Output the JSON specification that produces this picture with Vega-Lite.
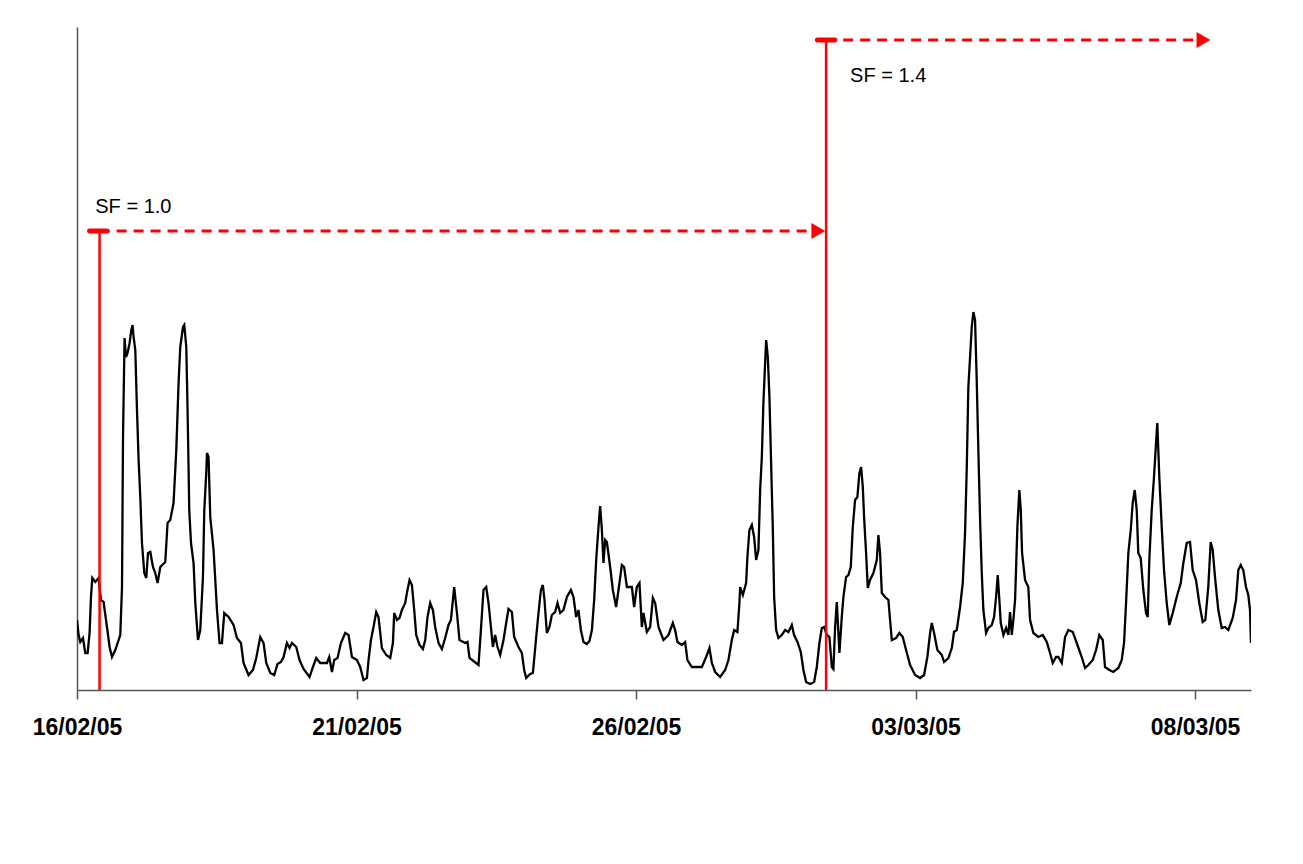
{
  "$schema": "https://vega.github.io/schema/vega-lite/v6.json",
  "width": 1174,
  "height": 663,
  "autosize": {"type": "none"},
  "padding": {"left": 77, "top": 27, "right": 52, "bottom": 174},
  "background": "white",
  "config": {
    "view": {"stroke": null},
    "font": "Arial, Liberation Sans, sans-serif"
  },
  "datasets": {
    "series": [
      {"day":0,"value":70},{"day":0.029,"value":55},{"day":0.059,"value":48},{"day":0.107,"value":52},{"day":0.148,"value":37},{"day":0.19,"value":37},{"day":0.225,"value":57},{"day":0.25,"value":93},{"day":0.274,"value":112},{"day":0.327,"value":108},{"day":0.386,"value":112},{"day":0.429,"value":90},{"day":0.476,"value":88},{"day":0.536,"value":63},{"day":0.583,"value":43},{"day":0.626,"value":33},{"day":0.685,"value":40},{"day":0.774,"value":55},{"day":0.805,"value":103},{"day":0.823,"value":253},{"day":0.851,"value":352},{"day":0.876,"value":333},{"day":0.905,"value":337},{"day":0.941,"value":347},{"day":0.971,"value":360},{"day":0.994,"value":365},{"day":1.012,"value":353},{"day":1.043,"value":340},{"day":1.073,"value":280},{"day":1.102,"value":230},{"day":1.132,"value":193},{"day":1.162,"value":147},{"day":1.204,"value":117},{"day":1.239,"value":112},{"day":1.27,"value":137},{"day":1.311,"value":138},{"day":1.359,"value":123},{"day":1.4,"value":117},{"day":1.441,"value":107},{"day":1.49,"value":123},{"day":1.579,"value":128},{"day":1.62,"value":167},{"day":1.668,"value":170},{"day":1.727,"value":187},{"day":1.776,"value":240},{"day":1.817,"value":307},{"day":1.847,"value":343},{"day":1.896,"value":363},{"day":1.919,"value":365},{"day":1.955,"value":343},{"day":1.978,"value":280},{"day":2.008,"value":180},{"day":2.039,"value":147},{"day":2.085,"value":127},{"day":2.116,"value":87},{"day":2.164,"value":50},{"day":2.205,"value":60},{"day":2.253,"value":113},{"day":2.277,"value":180},{"day":2.312,"value":217},{"day":2.325,"value":237},{"day":2.353,"value":233},{"day":2.384,"value":173},{"day":2.443,"value":140},{"day":2.504,"value":80},{"day":2.55,"value":47},{"day":2.593,"value":47},{"day":2.634,"value":77},{"day":2.711,"value":73},{"day":2.8,"value":65},{"day":2.861,"value":52},{"day":2.933,"value":47},{"day":2.979,"value":27},{"day":3.069,"value":15},{"day":3.147,"value":20},{"day":3.206,"value":32},{"day":3.278,"value":53},{"day":3.337,"value":47},{"day":3.385,"value":27},{"day":3.457,"value":17},{"day":3.528,"value":15},{"day":3.587,"value":26},{"day":3.648,"value":28},{"day":3.695,"value":33},{"day":3.755,"value":47},{"day":3.802,"value":42},{"day":3.845,"value":47},{"day":3.922,"value":43},{"day":3.981,"value":30},{"day":4.052,"value":21},{"day":4.16,"value":13},{"day":4.22,"value":23},{"day":4.279,"value":32},{"day":4.351,"value":27},{"day":4.471,"value":27},{"day":4.512,"value":33},{"day":4.56,"value":18},{"day":4.601,"value":30},{"day":4.66,"value":32},{"day":4.721,"value":47},{"day":4.798,"value":57},{"day":4.857,"value":55},{"day":4.918,"value":33},{"day":5.007,"value":30},{"day":5.066,"value":23},{"day":5.125,"value":10},{"day":5.186,"value":12},{"day":5.215,"value":30},{"day":5.258,"value":50},{"day":5.304,"value":63},{"day":5.352,"value":78},{"day":5.393,"value":73},{"day":5.454,"value":42},{"day":5.531,"value":35},{"day":5.603,"value":32},{"day":5.651,"value":47},{"day":5.674,"value":77},{"day":5.723,"value":70},{"day":5.769,"value":72},{"day":5.812,"value":80},{"day":5.871,"value":87},{"day":5.901,"value":97},{"day":5.948,"value":110},{"day":5.991,"value":105},{"day":6.032,"value":80},{"day":6.068,"value":55},{"day":6.127,"value":45},{"day":6.187,"value":41},{"day":6.229,"value":50},{"day":6.27,"value":73},{"day":6.318,"value":87},{"day":6.366,"value":80},{"day":6.407,"value":63},{"day":6.467,"value":47},{"day":6.527,"value":41},{"day":6.586,"value":52},{"day":6.645,"value":65},{"day":6.688,"value":70},{"day":6.724,"value":90},{"day":6.747,"value":103},{"day":6.796,"value":77},{"day":6.842,"value":50},{"day":6.944,"value":47},{"day":6.985,"value":48},{"day":7.021,"value":32},{"day":7.092,"value":29},{"day":7.182,"value":25},{"day":7.225,"value":60},{"day":7.271,"value":100},{"day":7.32,"value":103},{"day":7.361,"value":87},{"day":7.404,"value":63},{"day":7.439,"value":43},{"day":7.48,"value":55},{"day":7.522,"value":43},{"day":7.57,"value":35},{"day":7.629,"value":50},{"day":7.677,"value":67},{"day":7.718,"value":81},{"day":7.779,"value":78},{"day":7.82,"value":53},{"day":7.897,"value":43},{"day":7.958,"value":37},{"day":7.999,"value":20},{"day":8.035,"value":12},{"day":8.106,"value":16},{"day":8.155,"value":17},{"day":8.214,"value":53},{"day":8.255,"value":77},{"day":8.298,"value":100},{"day":8.333,"value":105},{"day":8.362,"value":90},{"day":8.405,"value":57},{"day":8.452,"value":63},{"day":8.494,"value":75},{"day":8.553,"value":78},{"day":8.595,"value":87},{"day":8.643,"value":77},{"day":8.702,"value":80},{"day":8.763,"value":93},{"day":8.834,"value":100},{"day":8.881,"value":93},{"day":8.929,"value":73},{"day":8.97,"value":80},{"day":9.013,"value":60},{"day":9.06,"value":48},{"day":9.12,"value":46},{"day":9.167,"value":49},{"day":9.21,"value":60},{"day":9.251,"value":90},{"day":9.287,"value":130},{"day":9.328,"value":163},{"day":9.358,"value":184},{"day":9.389,"value":160},{"day":9.417,"value":127},{"day":9.448,"value":150},{"day":9.478,"value":148},{"day":9.537,"value":123},{"day":9.585,"value":100},{"day":9.644,"value":83},{"day":9.703,"value":107},{"day":9.746,"value":125},{"day":9.787,"value":123},{"day":9.836,"value":103},{"day":9.925,"value":103},{"day":9.966,"value":83},{"day":10.014,"value":103},{"day":10.061,"value":107},{"day":10.104,"value":63},{"day":10.133,"value":77},{"day":10.193,"value":58},{"day":10.252,"value":63},{"day":10.301,"value":92},{"day":10.342,"value":87},{"day":10.401,"value":63},{"day":10.49,"value":50},{"day":10.58,"value":55},{"day":10.658,"value":67},{"day":10.699,"value":60},{"day":10.74,"value":48},{"day":10.819,"value":45},{"day":10.878,"value":48},{"day":10.919,"value":30},{"day":10.998,"value":23},{"day":11.088,"value":23},{"day":11.177,"value":23},{"day":11.254,"value":33},{"day":11.313,"value":42},{"day":11.356,"value":27},{"day":11.415,"value":18},{"day":11.504,"value":13},{"day":11.594,"value":20},{"day":11.653,"value":30},{"day":11.713,"value":50},{"day":11.755,"value":60},{"day":11.813,"value":58},{"day":11.849,"value":87},{"day":11.862,"value":103},{"day":11.91,"value":95},{"day":11.969,"value":107},{"day":11.992,"value":133},{"day":12.028,"value":160},{"day":12.071,"value":165},{"day":12.112,"value":153},{"day":12.148,"value":130},{"day":12.189,"value":140},{"day":12.22,"value":200},{"day":12.25,"value":233},{"day":12.278,"value":287},{"day":12.309,"value":327},{"day":12.327,"value":350},{"day":12.357,"value":333},{"day":12.386,"value":293},{"day":12.416,"value":227},{"day":12.447,"value":160},{"day":12.47,"value":93},{"day":12.506,"value":60},{"day":12.547,"value":52},{"day":12.607,"value":55},{"day":12.667,"value":60},{"day":12.726,"value":58},{"day":12.786,"value":65},{"day":12.827,"value":55},{"day":12.887,"value":48},{"day":12.947,"value":38},{"day":12.994,"value":20},{"day":13.042,"value":8},{"day":13.114,"value":6},{"day":13.185,"value":8},{"day":13.233,"value":23},{"day":13.28,"value":47},{"day":13.323,"value":62},{"day":13.364,"value":63},{"day":13.412,"value":55},{"day":13.459,"value":53},{"day":13.502,"value":23},{"day":13.53,"value":21},{"day":13.561,"value":63},{"day":13.591,"value":88},{"day":13.638,"value":37},{"day":13.68,"value":73},{"day":13.709,"value":93},{"day":13.757,"value":113},{"day":13.798,"value":115},{"day":13.841,"value":123},{"day":13.877,"value":163},{"day":13.918,"value":190},{"day":13.959,"value":193},{"day":13.995,"value":217},{"day":14.026,"value":223},{"day":14.056,"value":203},{"day":14.079,"value":173},{"day":14.115,"value":137},{"day":14.145,"value":102},{"day":14.186,"value":110},{"day":14.246,"value":117},{"day":14.306,"value":130},{"day":14.335,"value":155},{"day":14.365,"value":137},{"day":14.396,"value":97},{"day":14.455,"value":93},{"day":14.514,"value":90},{"day":14.544,"value":70},{"day":14.575,"value":50},{"day":14.651,"value":52},{"day":14.711,"value":57},{"day":14.771,"value":53},{"day":14.83,"value":40},{"day":14.902,"value":25},{"day":14.992,"value":15},{"day":15.081,"value":12},{"day":15.152,"value":15},{"day":15.211,"value":33},{"day":15.26,"value":57},{"day":15.29,"value":67},{"day":15.331,"value":57},{"day":15.39,"value":40},{"day":15.469,"value":35},{"day":15.51,"value":28},{"day":15.587,"value":32},{"day":15.648,"value":42},{"day":15.688,"value":58},{"day":15.737,"value":60},{"day":15.796,"value":83},{"day":15.844,"value":107},{"day":15.885,"value":157},{"day":15.916,"value":223},{"day":15.944,"value":303},{"day":15.975,"value":333},{"day":16.005,"value":363},{"day":16.034,"value":378},{"day":16.064,"value":370},{"day":16.095,"value":307},{"day":16.123,"value":240},{"day":16.154,"value":170},{"day":16.184,"value":117},{"day":16.213,"value":80},{"day":16.261,"value":57},{"day":16.302,"value":62},{"day":16.363,"value":65},{"day":16.404,"value":73},{"day":16.44,"value":93},{"day":16.47,"value":115},{"day":16.499,"value":90},{"day":16.524,"value":67},{"day":16.571,"value":55},{"day":16.619,"value":62},{"day":16.66,"value":55},{"day":16.69,"value":78},{"day":16.721,"value":55},{"day":16.749,"value":70},{"day":16.78,"value":90},{"day":16.821,"value":163},{"day":16.856,"value":200},{"day":16.882,"value":180},{"day":16.905,"value":137},{"day":16.958,"value":110},{"day":17.017,"value":103},{"day":17.048,"value":70},{"day":17.107,"value":57},{"day":17.196,"value":53},{"day":17.275,"value":55},{"day":17.347,"value":48},{"day":17.405,"value":37},{"day":17.454,"value":27},{"day":17.513,"value":33},{"day":17.554,"value":33},{"day":17.615,"value":27},{"day":17.674,"value":53},{"day":17.733,"value":60},{"day":17.812,"value":58},{"day":17.883,"value":47},{"day":17.972,"value":33},{"day":18.032,"value":22},{"day":18.091,"value":25},{"day":18.169,"value":30},{"day":18.228,"value":40},{"day":18.287,"value":55},{"day":18.348,"value":50},{"day":18.389,"value":23},{"day":18.466,"value":20},{"day":18.537,"value":18},{"day":18.627,"value":22},{"day":18.688,"value":30},{"day":18.729,"value":47},{"day":18.765,"value":87},{"day":18.806,"value":137},{"day":18.849,"value":160},{"day":18.884,"value":187},{"day":18.92,"value":200},{"day":18.956,"value":180},{"day":18.984,"value":137},{"day":19.027,"value":132},{"day":19.074,"value":100},{"day":19.122,"value":77},{"day":19.153,"value":73},{"day":19.181,"value":130},{"day":19.224,"value":180},{"day":19.265,"value":213},{"day":19.301,"value":247},{"day":19.324,"value":267},{"day":19.36,"value":213},{"day":19.403,"value":163},{"day":19.444,"value":120},{"day":19.492,"value":87},{"day":19.539,"value":65},{"day":19.6,"value":77},{"day":19.671,"value":93},{"day":19.743,"value":107},{"day":19.79,"value":127},{"day":19.85,"value":147},{"day":19.909,"value":148},{"day":19.957,"value":120},{"day":20.016,"value":110},{"day":20.075,"value":87},{"day":20.136,"value":68},{"day":20.183,"value":70},{"day":20.236,"value":103},{"day":20.279,"value":148},{"day":20.315,"value":140},{"day":20.356,"value":113},{"day":20.415,"value":80},{"day":20.476,"value":62},{"day":20.535,"value":63},{"day":20.594,"value":60},{"day":20.673,"value":72},{"day":20.732,"value":90},{"day":20.773,"value":120},{"day":20.816,"value":125},{"day":20.862,"value":120},{"day":20.91,"value":103},{"day":20.952,"value":95},{"day":20.982,"value":80},{"day":21,"value":47}
    ],
    "starts": [
      {"day": 0.404, "bottom": 0, "top": 459},
      {"day": 13.4, "bottom": 0, "top": 650}
    ],
    "spans": [
      {"from": 0.404, "to": 13.12, "level": 459},
      {"from": 13.4, "to": 20.02, "level": 650}
    ],
    "heads": [
      {"day": 13.26, "level": 459},
      {"day": 20.15, "level": 650}
    ],
    "caps": [
      {"day": 0.381, "level": 459},
      {"day": 13.4, "level": 650}
    ],
    "notes": [
      {"day": 0.327, "level": 483, "text": "SF = 1.0", "weight": "normal"},
      {"day": 13.829, "level": 614, "text": "SF = 1.4", "weight": "bold"}
    ]
  },
  "layer": [
    {
      "data": {"name": "series"},
      "mark": {"type": "line", "color": "black", "strokeWidth": 2.3, "clip": true},
      "encoding": {
        "x": {
          "field": "day", "type": "quantitative",
          "scale": {"domain": [0, 21], "nice": false, "zero": false},
          "axis": {
            "title": null, "values": [0, 5, 10, 15, 20], "grid": false,
            "domainColor": "#555555", "domainWidth": 1.5,
            "tickColor": "#555555", "tickSize": 9, "tickWidth": 1.5,
            "labelExpr": "timeFormat(datetime(2005, 1, 16 + datum.value), '%d/%m/%y')",
            "labelFont": "Arial, Liberation Sans, sans-serif",
            "labelFontSize": 23, "labelFontWeight": "bold", "labelColor": "black",
            "labelPadding": 17, "labelFlush": false, "labelOverlap": false
          }
        },
        "y": {
          "field": "value", "type": "quantitative",
          "scale": {"domain": [0, 663], "nice": false, "zero": true},
          "axis": {
            "title": null, "labels": false, "ticks": false, "grid": false,
            "domainColor": "#555555", "domainWidth": 1.5
          }
        }
      }
    },
    {
      "data": {"name": "starts"},
      "mark": {"type": "rule", "color": "#ff0000", "strokeWidth": 2.5},
      "encoding": {
        "x": {"field": "day", "type": "quantitative"},
        "y": {"field": "bottom", "type": "quantitative"},
        "y2": {"field": "top"}
      }
    },
    {
      "data": {"name": "spans"},
      "mark": {"type": "rule", "color": "#ff0000", "strokeWidth": 3, "strokeDash": [10, 7]},
      "encoding": {
        "x": {"field": "from", "type": "quantitative"},
        "x2": {"field": "to"},
        "y": {"field": "level", "type": "quantitative"}
      }
    },
    {
      "data": {"name": "heads"},
      "mark": {"type": "point", "shape": "triangle-right", "filled": true, "color": "#ff0000", "size": 256, "opacity": 1},
      "encoding": {
        "x": {"field": "day", "type": "quantitative"},
        "y": {"field": "level", "type": "quantitative"}
      }
    },
    {
      "data": {"name": "caps"},
      "mark": {"type": "point", "shape": "M-0.85,-0.25L0.85,-0.25A0.25,0.25,0,0,1,0.85,0.25L-0.85,0.25A0.25,0.25,0,0,1,-0.85,-0.25Z", "filled": true, "color": "#ff0000", "size": 420, "opacity": 1},
      "encoding": {
        "x": {"field": "day", "type": "quantitative"},
        "y": {"field": "level", "type": "quantitative"}
      }
    },
    {
      "data": {"name": "notes"},
      "mark": {"type": "text", "align": "left", "baseline": "middle", "fontSize": 20, "color": "black", "font": "Arial, Liberation Sans, sans-serif"},
      "encoding": {
        "x": {"field": "day", "type": "quantitative"},
        "y": {"field": "level", "type": "quantitative"},
        "text": {"field": "text"},
        "fontWeight": {"field": "weight", "type": "nominal", "scale": null}
      }
    }
  ]
}
